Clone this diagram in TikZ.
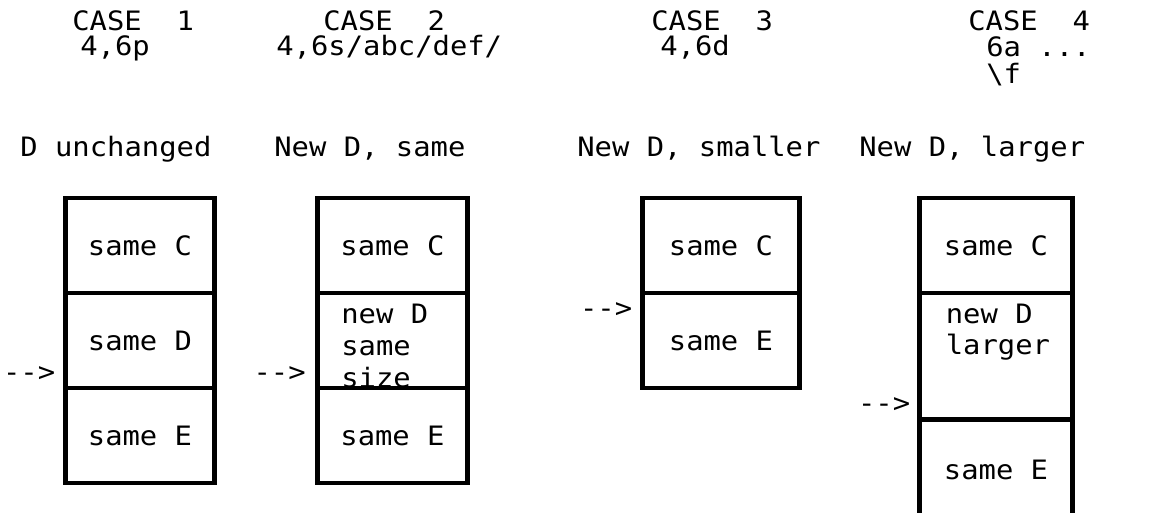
\documentclass[tikz,border=0pt]{standalone}
\usepackage{fontspec}
\newfontfamily\printfont[FakeStretch=1.08]{DejaVu Sans Mono}
\usetikzlibrary{positioning}

\begin{document}
\begin{tikzpicture}[
    headtext/.style={anchor=base west,inner sep=0pt,font=\printfont\fontsize{15.2}{18}\selectfont},
    cell/.style={rectangle,draw,line width=2.5pt,fill=white,inner sep=0pt,outer sep=0pt,
      minimum width=2.98cm,minimum height=1.90cm,font=\printfont\fontsize{15.2}{18}\selectfont},
    celltext/.style={inner sep=0pt,align=left,font=\printfont\fontsize{15.2}{17.5}\selectfont},
    pointer/.style={anchor=east,inner sep=0pt,font=\printfont\fontsize{15.2}{18}\selectfont}
    ]

    \useasboundingbox (0,0) rectangle (23.28,10.24);
    \clip (0,0) rectangle (23.28,10.24);

    % headings
    \foreach \n/\x in {1/1.44,2/6.46,3/13.02,4/19.36}
      \node (case\n) [headtext] at (\x,9.62) {CASE\ \ \n};

    \node (cmd1) [headtext] at (1.60,9.12) {4,6p};
    \node (cmd2) [headtext] at (5.52,9.12) {4,6s/abc/def/};
    \node (cmd3) [headtext] at (13.20,9.12) {4,6d};
    \node (cmd4) [headtext] at (19.72,9.10) {6a ...};
    \node (cmd4b) [headtext] at (19.72,8.56) {\textbackslash f};

    \node (title1) [headtext] at (0.40,7.10) {D unchanged};
    \node (title2) [headtext] at (5.48,7.10) {New D, same};
    \node (title3) [headtext] at (11.54,7.10) {New D, smaller};
    \node (title4) [headtext] at (17.18,7.10) {New D, larger};

    % case 1
    \node (c1) [cell,anchor=north west] at (1.31,6.28) {same C};
    \node (d1) [cell,below=0pt of c1] {same D};
    \node (e1) [cell,below=0pt of d1] {same E};

    % case 2
    \node (c2) [cell,minimum width=3.00cm,anchor=north west] at (6.35,6.28) {same C};
    \node (d2) [cell,minimum width=3.00cm,below=0pt of c2] {};
    \node (e2) [cell,minimum width=3.00cm,below=0pt of d2] {same E};
    \node (d2text) [celltext,font=\printfont\fontsize{15.2}{18.2}\selectfont,anchor=north west]
      at ([xshift=0.47cm,yshift=-0.22cm]d2.north west) {new D\\same\\size};

    % case 3
    \node (c3) [cell,minimum width=3.14cm,anchor=north west] at (12.85,6.28) {same C};
    \node (e3) [cell,minimum width=3.14cm,below=0pt of c3] {same E};

    % case 4
    \node (c4) [cell,minimum width=3.06cm,anchor=north west] at (18.39,6.28) {same C};
    \node (d4) [cell,minimum width=3.06cm,minimum height=2.53cm,below=0pt of c4] {};
    \node (e4) [cell,minimum width=3.06cm,minimum height=2.0cm,below=0pt of d4] {same E};
    \node (d4text) [celltext,anchor=north west] at ([xshift=0.52cm,yshift=-0.21cm]d4.north west) {new D\\larger};

    \node (ptr1) [pointer] at ([xshift=-0.20cm,yshift=0.28cm]d1.south west) {-{}-{}>};
    \node (ptr2) [pointer] at ([xshift=-0.23cm,yshift=0.28cm]d2.south west) {-{}-{}>};
    \node (ptr3) [pointer] at ([xshift=-0.20cm,yshift=-0.35cm]e3.north west) {-{}-{}>};
    \node (ptr4) [pointer] at ([xshift=-0.18cm,yshift=0.28cm]d4.south west) {-{}-{}>};

  \end{tikzpicture}
\end{document}
